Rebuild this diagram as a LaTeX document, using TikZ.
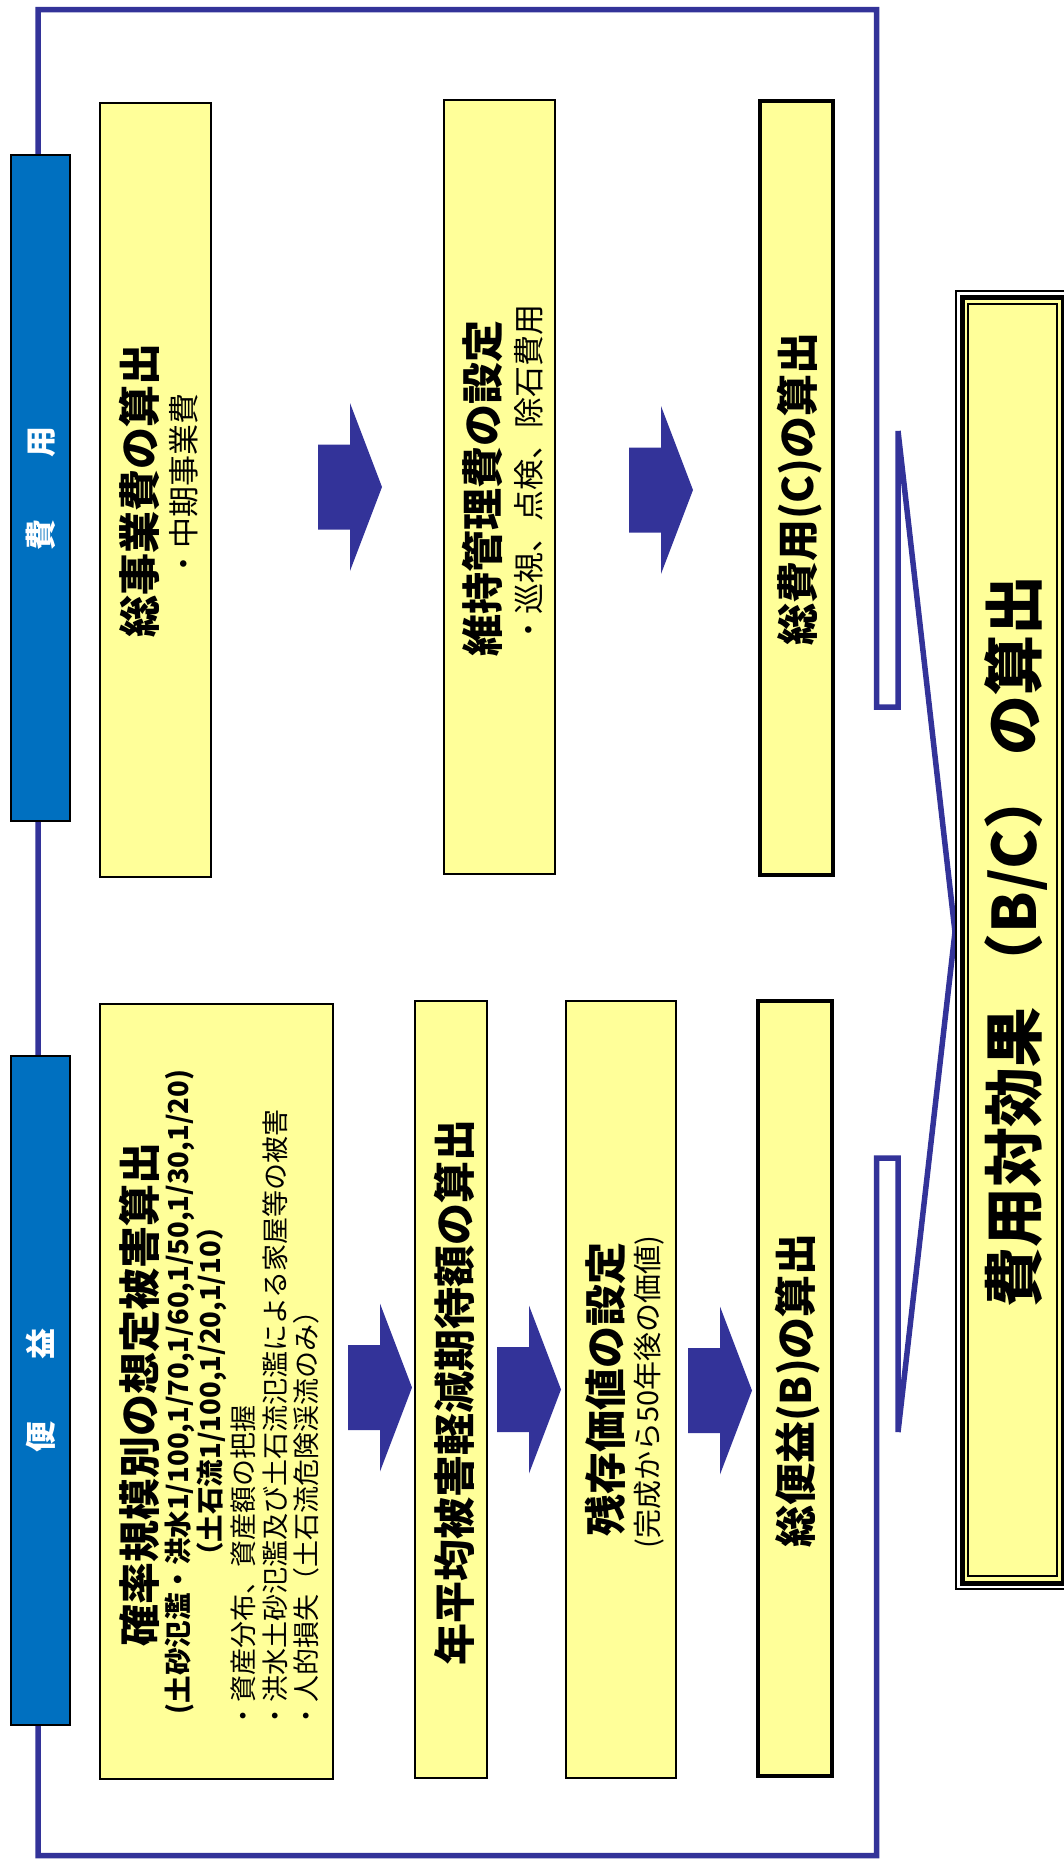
\documentclass[tikz,border=0pt]{standalone}
\usepackage{fontspec}
\setmainfont{Noto Sans CJK JP}
\definecolor{fy}{HTML}{FFFF99}
\definecolor{fb}{HTML}{333399}
\definecolor{lb}{HTML}{0070C0}
\tikzset{
 ybox/.style={draw=black, line width=1.8pt, fill=fy, inner sep=0pt},
 yboxbold/.style={ybox, line width=4pt},
 lbox/.style={draw=black, line width=2pt, fill=lb, inner sep=0pt},
 ttl/.style={rotate=90, inner sep=0pt, font=\bfseries\fontsize{42}{48}\selectfont},
 subt/.style={rotate=90, inner sep=0pt, font=\fontsize{31}{36}\selectfont},
 smt/.style={rotate=90, inner sep=0pt, font=\fontsize{27}{32}\selectfont},
 smbt/.style={rotate=90, inner sep=0pt, font=\bfseries\fontsize{27.5}{32}\selectfont},
 lbl/.style={rotate=90, inner sep=0pt, text=white, font=\bfseries\fontsize{31}{36}\selectfont},
 framel/.style={draw=fb, line width=5.5pt, line join=miter, miter limit=2},
 barrow/.pic={\fill[fb] (0,-42.5) -- (32,-42.5) -- (32,-84) -- (64,0) -- (32,84) -- (32,42.5) -- (0,42.5) -- cycle;}
}
\begin{document}
\begin{tikzpicture}[x=1pt,y=-1pt]
\useasboundingbox (0,0) rectangle (1063,1863);
% frame with brackets
\coordinate (tip) at (955,932);
\draw[framel] (38,9.5) -- (876.5,9.5) -- (876.5,707) -- (898,707) -- (898,431) -- (tip)
  -- (898,1432) -- (898,1158) -- (876.5,1158) -- (876.5,1855.5) -- (38,1855.5) -- cycle;
% labels
\node[lbox, minimum width=59, minimum height=666] (L1) at (40.5,488) {};
\node[lbl] (L1t) at (L1) {費　　用};
\node[lbox, minimum width=59, minimum height=669] (L2) at (40.5,1390.5) {};
\node[lbl] (L2t) at (L2) {便　　益};
% cost row
\node[ybox, minimum width=111, minimum height=774] (b1) at (155.5,490) {};
\node[ttl] (b1t) at (139,490) {総事業費の算出};
\node[subt] (b1s) at (184,486) {・中期事業費};
\node[ybox, minimum width=111, minimum height=774] (b2) at (499.5,487) {};
\node[ttl] (b2t) at (482.5,488) {維持管理費の設定};
\node[subt] (b2s) at (528.5,475) {・巡視、点検、除石費用};
\node[yboxbold, minimum width=73, minimum height=774] (b3) at (796.5,488) {};
\node[ttl] (b3t) at (800,489) {総費用(C)の算出};
% benefit row
\node[ybox, minimum width=233, minimum height=775] (b4) at (216.5,1391.5) {};
\node[ttl] (b4t) at (139,1394.5) {確率規模別の想定被害算出};
\node[smbt] (b4a) at (179.5,1392) {(土砂氾濫・洪水1/100,1/70,1/60,1/50,1/30,1/20)};
\node[smbt] (b4b) at (211.5,1391.5) {（土石流1/100,1/20,1/10）};
\node[smt, anchor=west] (b4c) at (243.5,1730) {・資産分布、資産額の把握};
\node[smt, anchor=west] (b4d) at (275,1730) {・洪水土砂氾濫及び土石流氾濫による家屋等の被害};
\node[smt, anchor=west] (b4e) at (306.5,1730) {・人的損失（土石流危険渓流のみ）};
\node[ybox, minimum width=72, minimum height=777] (b5) at (451,1389.5) {};
\node[ttl] (b5t) at (454,1392) {年平均被害軽減期待額の算出};
\node[ybox, minimum width=110, minimum height=777] (b6) at (621,1389.5) {};
\node[ttl] (b6t) at (605,1389.5) {残存価値の設定};
\node[smt, font=\fontsize{29}{34}\selectfont] (b6s) at (649,1392) {(完成から50年後の価値)};
\node[yboxbold, minimum width=74, minimum height=775] (b7) at (795,1388.5) {};
\node[ttl] (b7t) at (797.5,1390.5) {総便益(B)の算出};
% block arrows
\pic at (318,487) {barrow};
\pic at (629,490) {barrow};
\pic at (348,1387.5) {barrow};
\pic at (497,1389.5) {barrow};
\pic at (688,1390.5) {barrow};
% B/C box with compound border
\node[draw=black, line width=1.5pt, fill=white, minimum width=113, minimum height=1298, inner sep=0pt] (bco) at (1012.5,940) {};
\node[draw=black, line width=5pt, fill=fy, minimum width=101, minimum height=1286, inner sep=0pt] (bcm) at (bco) {};
\node[draw=black, line width=1.5pt, minimum width=89, minimum height=1272, inner sep=0pt] (bci) at (bco) {};
\node[rotate=90, inner sep=0pt, font=\bfseries\fontsize{60}{68}\selectfont] (bct) at (1016,941.5) {費用対効果 （B/C） の算出};
\end{tikzpicture}
\end{document}
